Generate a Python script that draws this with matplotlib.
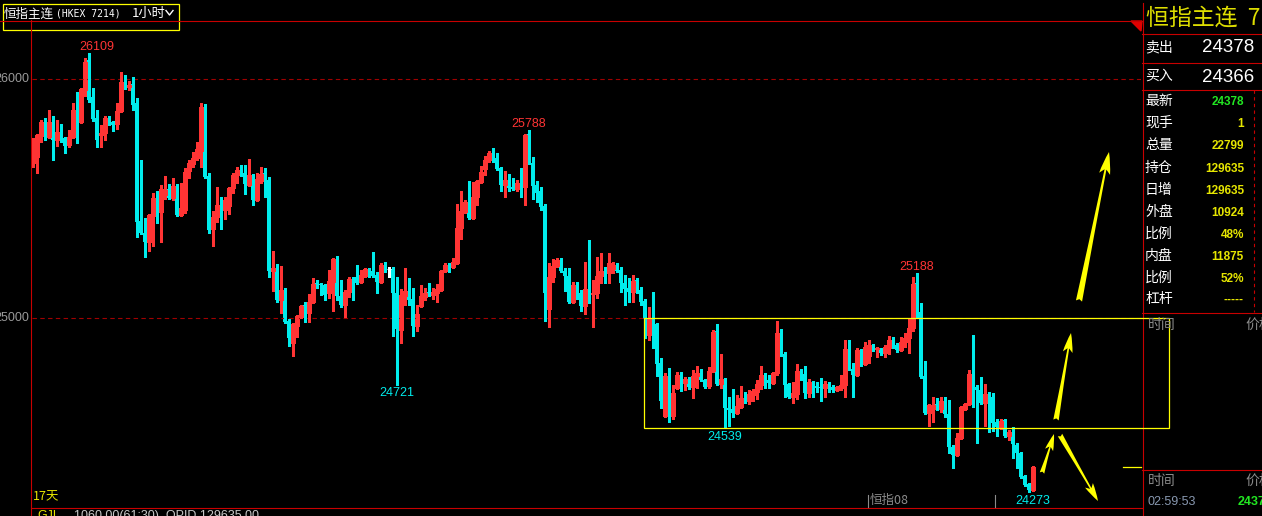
import matplotlib
matplotlib.use('Agg')
import matplotlib.pyplot as plt
from matplotlib.patches import Rectangle, Polygon, FancyArrowPatch
from matplotlib.lines import Line2D
import numpy as np

plt.rcParams['font.family'] = ['Noto Sans CJK SC', 'DejaVu Sans']

# hourly candles, HSI main continuous
opens = [
    25648, 25674, 25762, 25820, 25758, 25820, 25745, 25779, 25754, 25724,
    25758, 25866, 25820, 25954, 26079, 25925, 25837, 25766, 25774, 25837,
    25820, 25811, 25866, 25987, 25967, 25979, 25899, 25405, 25355, 25318,
    25426, 25498, 25443, 25515, 25540, 25502, 25548, 25431, 25452, 25615,
    25644, 25669, 25699, 25883, 25594, 25372, 25422, 25473, 25452, 25469,
    25544, 25598, 25619, 25606, 25556, 25598, 25494, 25573, 25606, 25577,
    25196, 25209, 25075, 25113, 24987, 24896, 24967, 25004, 25054, 25021,
    25067, 25146, 25142, 25138, 25104, 25151, 25243, 25092, 25054, 25109,
    25163, 25171, 25151, 25176, 25201, 25196, 25180, 25151, 25217, 25205,
    25205, 25104, 24950, 25092, 25113, 25079, 24966, 25050, 25088, 25109,
    25096, 25104, 25117, 25196, 25222, 25213, 25230, 25376, 25444, 25485,
    25418, 25506, 25569, 25623, 25661, 25690, 25669, 25628, 25556, 25577,
    25548, 25540, 25565, 25548, 25770, 25648, 25556, 25531, 25469, 25038,
    25171, 25217, 25243, 25196, 25176, 25067, 25138, 25104, 25050, 25121,
    25100, 25104, 25176, 25196, 25188, 25205, 25222, 25201, 25146, 25125,
    25109, 25159, 25117, 25071, 24929, 24996, 24975, 24811, 24590, 24757,
    24590, 24707, 24761, 24728, 24745, 24711, 24757, 24770, 24740, 24715,
    24778, 24946, 24724, 24740, 24623, 24619, 24602, 24628, 24661, 24653,
    24678, 24690, 24720, 24757, 24740, 24728, 24770, 24937, 24850, 24724,
    24669, 24682, 24778, 24765, 24686, 24732, 24715, 24711, 24707, 24720,
    24711, 24699, 24707, 24720, 24870, 24786, 24761, 24862, 24807, 24841,
    24883, 24870, 24870, 24854, 24875, 24908, 24887, 24866, 24900, 24916,
    24958, 25146, 25025, 24757, 24602, 24619, 24640, 24619, 24653, 24598,
    24460, 24427, 24498, 24619, 24640, 24761, 24711, 24699, 24644, 24682,
    24669, 24565, 24540, 24573, 24506, 24523, 24469, 24435, 24338, 24305,
    24280]
highs = [
    25754, 25770, 25828, 25837, 25870, 25845, 25828, 25811, 25758, 25787,
    25899, 25946, 25963, 26088, 26109, 25963, 25870, 25807, 25845, 25845,
    25824, 25899, 26029, 26017, 25992, 26008, 25920, 25661, 25418, 25435,
    25523, 25531, 25556, 25594, 25561, 25585, 25561, 25565, 25628, 25661,
    25695, 25737, 25899, 25895, 25606, 25448, 25548, 25506, 25506, 25548,
    25606, 25632, 25640, 25640, 25665, 25602, 25606, 25632, 25628, 25590,
    25280, 25226, 25217, 25125, 24996, 24979, 25012, 25054, 25067, 25100,
    25167, 25159, 25146, 25142, 25201, 25250, 25259, 25159, 25117, 25171,
    25171, 25222, 25201, 25209, 25209, 25276, 25192, 25230, 25234, 25213,
    25213, 25171, 25121, 25209, 25167, 25125, 25054, 25138, 25125, 25146,
    25125, 25142, 25201, 25230, 25230, 25251, 25477, 25531, 25494, 25573,
    25569, 25577, 25636, 25678, 25699, 25711, 25690, 25632, 25615, 25602,
    25585, 25577, 25628, 25770, 25788, 25674, 25573, 25548, 25477, 25230,
    25247, 25251, 25251, 25209, 25209, 25151, 25151, 25117, 25234, 25326,
    25159, 25255, 25272, 25213, 25272, 25234, 25230, 25213, 25180, 25167,
    25180, 25167, 25130, 25079, 25046, 25109, 24979, 24832, 24770, 24790,
    24720, 24774, 24774, 24753, 24753, 24782, 24799, 24786, 24745, 24795,
    24950, 24975, 24850, 24749, 24669, 24703, 24678, 24715, 24690, 24699,
    24703, 24740, 24799, 24770, 24761, 24774, 24987, 24954, 24858, 24728,
    24732, 24807, 24786, 24799, 24745, 24736, 24732, 24749, 24736, 24732,
    24720, 24715, 24761, 24908, 24908, 24811, 24875, 24870, 24900, 24908,
    24891, 24879, 24875, 24887, 24925, 24920, 24896, 24920, 24937, 25000,
    25171, 25188, 25063, 24820, 24640, 24669, 24665, 24669, 24669, 24657,
    24469, 24519, 24632, 24644, 24782, 24929, 24720, 24753, 24724, 24690,
    24686, 24577, 24577, 24577, 24531, 24544, 24477, 24440, 24343, 24309,
    24380]
lows = [
    25632, 25606, 25737, 25745, 25754, 25661, 25720, 25737, 25690, 25716,
    25755, 25733, 25816, 25929, 25904, 25824, 25716, 25716, 25745, 25807,
    25783, 25791, 25862, 25958, 25954, 25870, 25339, 25350, 25255, 25280,
    25301, 25397, 25318, 25498, 25498, 25494, 25427, 25427, 25439, 25585,
    25632, 25661, 25632, 25585, 25355, 25301, 25401, 25372, 25414, 25435,
    25523, 25565, 25594, 25519, 25552, 25473, 25490, 25565, 25506, 25171,
    25113, 25067, 25021, 24979, 24883, 24841, 24920, 25000, 24983, 24983,
    25063, 25125, 25096, 25075, 25084, 25029, 25075, 25046, 25004, 25088,
    25075, 25142, 25146, 25171, 25171, 25171, 25104, 25146, 25192, 25171,
    24925, 24721, 24895, 25054, 25054, 24925, 24946, 25046, 25075, 25092,
    25079, 25067, 25113, 25192, 25192, 25209, 25226, 25330, 25439, 25414,
    25414, 25473, 25565, 25598, 25653, 25653, 25619, 25531, 25506, 25531,
    25536, 25531, 25506, 25473, 25644, 25498, 25485, 25452, 24987, 24962,
    25151, 25213, 25192, 25113, 25063, 25063, 25079, 25029, 25017, 25063,
    24962, 25084, 25146, 25146, 25146, 25188, 25192, 25109, 25054, 25067,
    25067, 25104, 25054, 24916, 24908, 24875, 24757, 24623, 24586, 24565,
    24577, 24703, 24695, 24699, 24703, 24665, 24707, 24736, 24707, 24707,
    24774, 24720, 24707, 24539, 24548, 24586, 24598, 24623, 24644, 24640,
    24653, 24661, 24703, 24707, 24707, 24724, 24761, 24841, 24669, 24665,
    24644, 24661, 24740, 24665, 24669, 24669, 24690, 24653, 24669, 24690,
    24690, 24695, 24699, 24669, 24782, 24669, 24757, 24799, 24803, 24811,
    24862, 24837, 24845, 24837, 24850, 24875, 24858, 24862, 24879, 24854,
    24946, 25000, 24750, 24598, 24548, 24565, 24615, 24607, 24586, 24435,
    24372, 24423, 24494, 24615, 24636, 24628, 24477, 24640, 24548, 24523,
    24527, 24506, 24536, 24502, 24489, 24414, 24372, 24330, 24297, 24273,
    24276]
closes = [
    25699, 25766, 25820, 25758, 25820, 25745, 25779, 25750, 25720, 25758,
    25870, 25816, 25958, 26071, 25912, 25832, 25745, 25774, 25837, 25816,
    25807, 25866, 25987, 25971, 25975, 25891, 25401, 25355, 25318, 25431,
    25502, 25439, 25540, 25536, 25502, 25552, 25431, 25460, 25611, 25648,
    25669, 25707, 25883, 25590, 25368, 25422, 25473, 25452, 25494, 25544,
    25598, 25619, 25598, 25561, 25598, 25494, 25581, 25602, 25573, 25196,
    25209, 25075, 25117, 24983, 24916, 24975, 25008, 25050, 25021, 25067,
    25142, 25142, 25138, 25096, 25155, 25247, 25092, 25054, 25109, 25163,
    25155, 25146, 25180, 25205, 25192, 25176, 25151, 25222, 25201, 25205,
    25104, 24954, 25096, 25113, 25075, 24966, 25017, 25092, 25104, 25096,
    25109, 25121, 25196, 25222, 25213, 25234, 25376, 25448, 25485, 25418,
    25506, 25573, 25611, 25661, 25690, 25669, 25623, 25556, 25577, 25544,
    25540, 25565, 25548, 25766, 25648, 25552, 25523, 25464, 25104, 25171,
    25217, 25243, 25196, 25176, 25067, 25138, 25100, 25050, 25121, 25096,
    25104, 25176, 25196, 25188, 25230, 25222, 25196, 25146, 25121, 25109,
    25155, 25117, 25067, 24996, 24996, 24975, 24807, 24653, 24757, 24590,
    24686, 24761, 24724, 24745, 24711, 24757, 24770, 24740, 24711, 24778,
    24941, 24724, 24745, 24623, 24615, 24602, 24632, 24665, 24653, 24682,
    24695, 24724, 24761, 24736, 24728, 24770, 24937, 24845, 24720, 24669,
    24686, 24778, 24753, 24686, 24732, 24715, 24707, 24707, 24724, 24707,
    24699, 24711, 24720, 24870, 24787, 24761, 24866, 24807, 24879, 24887,
    24870, 24875, 24854, 24879, 24908, 24883, 24866, 24900, 24916, 24958,
    25142, 25021, 24753, 24602, 24636, 24636, 24619, 24653, 24598, 24460,
    24427, 24498, 24628, 24640, 24765, 24711, 24699, 24644, 24682, 24670,
    24561, 24544, 24569, 24506, 24523, 24473, 24435, 24334, 24301, 24280,
    24378]

# extreme labels: (candle index, price, above/below)
extremes = [(14, 26109, 'hi'), (124, 25788, 'hi'), (91, 24721, 'lo'),
            (173, 24539, 'lo'), (221, 25188, 'hi'), (249, 24273, 'lo')]
grid_prices = [26000, 25000]
box_top, box_bottom = 25000, 24539

quote_labels = ['最新', '现手', '总量', '持仓', '日增', '外盘', '比例', '内盘', '比例', '杠杆']
quote_values = ['24378', '1', '22799', '129635', '129635', '10924', '48%', '11875', '52%', '-----']
sell_price, buy_price = '24378', '24366'

W, H = 1262, 516
fig = plt.figure(figsize=(W / 100, H / 100), dpi=100, facecolor='black')

def fx(x):
    return x / W

def fy(y):
    return 1 - y / H

RED = '#ff3434'
CYAN = '#00ecec'
FRAME = '#c80000'
YELLOW = '#ffff00'
TXTY = '#e6e600'
GRAY = '#8c8c8c'

def fline(xs, ys, color=FRAME, lw=0.8, **kw):
    fig.add_artist(Line2D([fx(v) for v in xs], [fy(v) for v in ys], color=color, lw=lw, **kw))

# main chart axes
ax = fig.add_axes([fx(32), fy(507), (1141 - 32) / W, (507 - 20) / H])
ax.set_xlim(-0.25, 277)
ax.set_ylim(24209, 26247)
ax.set_axis_off()
ax.set_zorder(3)

for gp in grid_prices:
    ax.axhline(gp, color='#a00000', lw=0.8, ls=(0, (4, 3)))

o = np.array(opens)
h = np.array(highs)
l = np.array(lows)
c = np.array(closes)
x = np.arange(len(c))
up = c > o
dn = c < o
flat = c == o
cols = np.where(up, RED, np.where(dn, CYAN, 'white'))
ax.vlines(x, l, h, colors=cols, lw=0.75, antialiased=False)
bottom = np.minimum(o, c)
height = np.maximum(np.abs(c - o), 4)
ax.bar(x[dn], height[dn], bottom=bottom[dn], width=0.8, color=CYAN, lw=0, antialiased=False)
ax.bar(x[up], height[up], bottom=bottom[up], width=0.6, facecolor='black',
       edgecolor=RED, lw=0.75, antialiased=False)
ax.hlines(o[flat], x[flat] - 0.4, x[flat] + 0.4, colors='white', lw=0.75)

# high / low labels
xoff = {14: 5.8, 249: 3}
for i, val, kind in extremes:
    if kind == 'hi':
        ax.annotate(str(val), xy=(i, val), xytext=(xoff.get(i, 0), 2.2), textcoords='offset points',
                    ha='center', va='baseline', color=RED, fontsize=9, family='Liberation Sans')
    else:
        ax.annotate(str(val), xy=(i, val), xytext=(xoff.get(i, 0), -8.5), textcoords='offset points',
                    ha='center', va='baseline', color=CYAN, fontsize=9, family='Liberation Sans')

# consolidation box
ax.add_patch(Rectangle((152.75, box_bottom), 284 - 152.75, box_top - box_bottom, fill=False,
                       ec=YELLOW, lw=0.9, clip_on=False, zorder=5))
# latest price marker
ax.plot([272.5, 277], [closes[-1], closes[-1]], color=YELLOW, lw=0.9, clip_on=False)

# y labels
for gp in grid_prices:
    ax.annotate(str(gp), xy=(0, gp), xycoords=('axes fraction', 'data'), xytext=(-2.2, 0),
                textcoords='offset points', ha='right', va='center', color='#9a9a9a',
                fontsize=9, family='Liberation Sans', annotation_clip=False)

# frame lines
fline([0, 1142], [20.5, 20.5])
fline([31.5, 31.5], [20, 516])
fline([31.5, 1142], [507.5, 507.5])
fline([1142.5, 1142.5], [3, 516])
for yy in [33.5, 62.5, 89.5, 312.5, 469.5]:
    fline([1142, 1262], [yy, yy])
fline([1254, 1254], [90, 312], ls=(0, (3, 3)))
fig.add_artist(Polygon([(fx(1131), fy(21)), (fx(1142), fy(21)), (fx(1141), fy(31))],
                       closed=True, color='#e00000', transform=fig.transFigure))

# title box
fig.add_artist(Rectangle((fx(2.5), fy(29.5)), fx(178.5) - fx(2.5), fy(3.5) - fy(29.5),
                         fill=False, ec=YELLOW, lw=0.9, transform=fig.transFigure))
fig.text(fx(4), fy(14), '恒指主连', color='white', fontsize=9, va='center')
fig.text(fx(56), fy(14), '(HKEX 7214)', color='white', fontsize=7, va='center', family='DejaVu Sans Mono')
fig.text(fx(132), fy(14), '1小时', color='white', fontsize=9.5, va='center')
fline([166, 169.5, 173], [10.5, 15, 10.5], color='white', lw=1)

# arrows
arrows = [((1079, 301), (1109, 152), 16), ((1056, 420), (1071, 333), 14),
          ((1042, 473), (1054, 434), 12), ((1060, 435), (1098, 501), 13)]
for (x0, y0), (x1, y1), ms in arrows:
    fig.add_artist(FancyArrowPatch((fx(x0), fy(y0)), (fx(x1), fy(y1)), transform=fig.transFigure,
                                   arrowstyle='fancy,head_length=1.0,head_width=0.5,tail_width=0.28',
                                   mutation_scale=ms, color=YELLOW, shrinkA=0, shrinkB=0, lw=0))

# bottom texts
fig.text(fx(33), fy(497), '17天', color=TXTY, fontsize=9, va='center')
fig.text(fx(870), fy(500), '恒指08', color=GRAY, fontsize=9, va='center')
fline([868, 868], [495, 507], color=GRAY)
fline([995, 995], [495, 507], color=GRAY)
fig.text(fx(37), fy(510), 'GJL', color=TXTY, fontsize=9, va='top', family='Liberation Sans')
fig.text(fx(74), fy(510), '1060.00(61:30)  OPID 129635.00', color='#c8c8c8', fontsize=9,
         va='top', family='Liberation Sans')

# right quote panel
fig.text(fx(1146), fy(18), '恒指主连  7', color='#dede00', fontsize=16.5, va='center')
fig.text(fx(1145), fy(47), '卖出', color='white', fontsize=10, va='center')
fig.text(fx(1254), fy(48), sell_price, color='white', fontsize=13.5, va='center', ha='right',
         family='Liberation Sans')
fig.text(fx(1145), fy(76), '买入', color='white', fontsize=10, va='center')
fig.text(fx(1254), fy(77), buy_price, color='white', fontsize=13.5, va='center', ha='right',
         family='Liberation Sans')
row_y = [101, 123, 145, 168, 190, 212, 234, 256, 278, 299]
for k, (lab, val) in enumerate(zip(quote_labels, quote_values)):
    fig.text(fx(1145), fy(row_y[k]), lab, color='white', fontsize=10, va='center')
    fig.text(fx(1244), fy(row_y[k] + 1), val, color='#22e622' if k == 0 else TXTY, fontsize=8.5,
             va='center', ha='right', family='Liberation Sans', fontweight='bold')
for yy in [325, 481]:
    fig.text(fx(1148), fy(yy), '时间', color=GRAY, fontsize=10, va='center')
    fig.text(fx(1245), fy(yy), '价格', color=GRAY, fontsize=10, va='center')
fig.text(fx(1148), fy(502), '02:59:53', color='#8898b0', fontsize=9, va='center', family='Liberation Sans')
fig.text(fx(1238), fy(502), closes[-1], color='#22e622', fontsize=9, va='center',
         family='Liberation Sans', fontweight='bold')

fig.savefig('out.png', dpi=100, facecolor='black')
